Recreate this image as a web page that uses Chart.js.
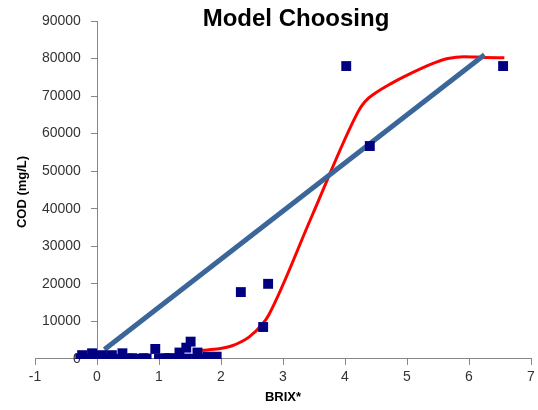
<!DOCTYPE html>
<html>
<head>
<meta charset="utf-8">
<script src="https://cdn.jsdelivr.net/npm/chart.js@4"></script>
<style>
  html, body { margin: 0; padding: 0; background: #fff; }
  #wrap { width: 538px; height: 410px; }
</style>
</head>
<body>
<div id="wrap"><canvas id="chart"></canvas></div>
<script>
// measured samples (BRIX* vs COD)
const brixValues = [-0.27, -0.24, -0.1, -0.08, 0.05, 0.08, 0.2, 0.24, 0.35, 0.41, 0.5, 0.57, 0.65, 0.75, 0.8, 0.94, 1.0,
                    1.1, 1.15, 1.18, 1.3, 1.33, 1.44, 1.45, 1.51, 1.6, 1.62, 1.72, 1.78, 1.85, 1.93,
                    2.32, 2.68, 2.76, 4.02, 4.4, 6.55];
const codValues = [0, 1000, 100, 1500, 0, 1000, 100, 1000, 0, 1500, 100, 200, 0, 200, 100, 2650, 0,
                   200, 100, 200, 0, 1700, 3000, 100, 4600, 0, 1700, 100, 600, 100, 600,
                   17800, 8500, 20000, 78000, 56700, 78000];

// straight line model (blue)
const linearBrix = [0.12, 6.25];
const linearCod = [2500, 81000];

// fitted model (red)
const modelBrix = [1.68, 1.97, 2.18, 2.45, 2.67, 2.77, 3.47, 4.21, 4.32, 4.48, 4.75, 5.07, 5.39, 5.66, 5.92, 6.25, 6.57];
const modelCod = [2300, 2700, 3500, 5800, 9300, 11700, 38200, 65800, 68500, 70700, 73400, 76100, 78500, 80000, 80500, 80300, 80200];

const xTicks = [-1, 0, 1, 2, 3, 4, 5, 6, 7];
const yTicks = [0, 10000, 20000, 30000, 40000, 50000, 60000, 70000, 80000, 90000];

const chartTitle = 'Model Choosing';
const xTitle = 'BRIX*';
const yTitle = 'COD (mg/L)';

function toPoints(xs, ys) {
    return xs.map((x, i) => ({ x: x, y: ys[i] }));
}

// titles drawn where Excel put them (title is not centered on the canvas)
const titlesPlugin = {
    id: 'titles',
    afterDraw(chart) {
        const ctx = chart.ctx;
        ctx.save();
        ctx.fillStyle = '#000';
        ctx.textAlign = 'center';
        ctx.textBaseline = 'middle';
        ctx.font = 'bold 24px "Liberation Sans"';
        ctx.fillText(chartTitle, 296, 19);
        ctx.translate(22, 192);
        ctx.rotate(-Math.PI / 2);
        ctx.font = 'bold 13px "Liberation Sans"';
        ctx.fillText(yTitle, 0, 0);
        ctx.restore();
    }
};

Chart.defaults.font.family = '"Liberation Sans", Arial, sans-serif';
Chart.defaults.color = '#333';

const axisGray = '#868686';

new Chart(document.getElementById('chart'), {
    type: 'scatter',
    data: {
        datasets: [
            {
                label: 'COD',
                data: toPoints(brixValues, codValues),
                pointStyle: 'rect',
                pointRadius: 7,
                backgroundColor: '#000080',
                borderColor: '#000080',
                borderWidth: 0,
                order: 0
            },
            {
                label: 'Linear',
                type: 'line',
                data: toPoints(linearBrix, linearCod),
                borderColor: '#3B6699',
                borderWidth: 5,
                pointRadius: 0,
                fill: false,
                order: 1
            },
            {
                label: 'Model',
                type: 'line',
                data: toPoints(modelBrix, modelCod),
                borderColor: '#FF0000',
                borderWidth: 3,
                pointRadius: 0,
                cubicInterpolationMode: 'monotone',
                fill: false,
                order: 2
            }
        ]
    },
    options: {
        responsive: true,
        maintainAspectRatio: false,
        animation: false,
        layout: { padding: { left: 35, right: 0, top: 21, bottom: 2 } },
        plugins: {
            legend: { display: false },
            tooltip: { enabled: false }
        },
        scales: {
            x: {
                type: 'linear',
                position: 'bottom',
                min: -1,
                max: 7,
                afterBuildTicks: scale => { scale.ticks = xTicks.map(v => ({ value: v })); },
                grid: { drawOnChartArea: false, drawTicks: true, tickLength: 6, color: axisGray },
                border: { display: true, color: axisGray },
                // tall line height instead of padding, so the last label does not squeeze the plot
                ticks: { font: { size: 14, lineHeight: 1.72 }, padding: 0, maxRotation: 0 },
                title: { display: true, text: xTitle, font: { size: 13, weight: 'bold', lineHeight: 1 }, color: '#000', padding: { top: 1.5, bottom: 4.5 } }
            },
            // tick labels, right-aligned a little left of the axis line
            y: {
                type: 'linear',
                position: { x: -0.26 },
                min: 0,
                max: 90000,
                afterBuildTicks: scale => { scale.ticks = yTicks.map(v => ({ value: v })); },
                grid: { display: false },
                border: { display: false },
                ticks: { font: { size: 14, lineHeight: 1 }, callback: v => String(v) }
            },
            // the axis line itself, crossing at BRIX 0
            yLine: {
                type: 'linear',
                position: { x: 0 },
                min: 0,
                max: 90000,
                afterBuildTicks: scale => { scale.ticks = yTicks.map(v => ({ value: v })); },
                grid: { drawOnChartArea: false, drawTicks: true, tickLength: 6, color: axisGray },
                border: { display: true, color: axisGray },
                ticks: { display: false }
            }
        }
    },
    plugins: [titlesPlugin]
});
</script>
</body>
</html>
